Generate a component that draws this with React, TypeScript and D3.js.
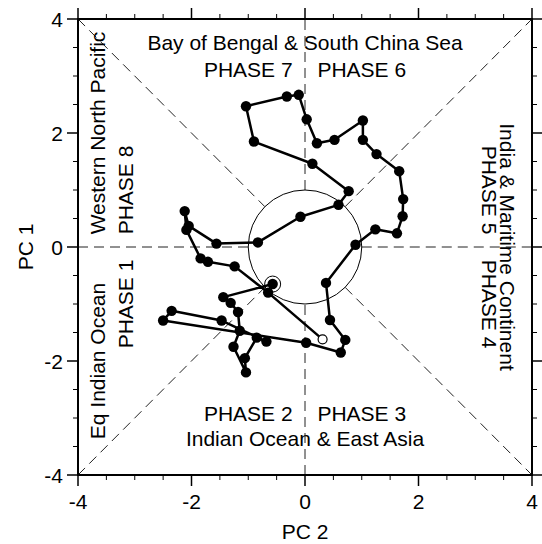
import React from "react";
import * as d3 from "d3";

// Trajectory (PC2 on x, PC1 on y), in time order
const PC2 = [
  -0.57, -1.44, -1.31, -1.18, -1.15, -1.26, -1.04, -1.06, -0.85, -0.68,
  -1.47, -2.35, -2.5, 0.02, 0.63, 0.71, 0.44, 0.37, 0.89, 1.24,
  1.62, 1.72, 1.73, 1.66, 1.26, 1.02, 1.02, 0.52, 0.21, 0.03,
  -0.11, -0.32, -1.04, -0.9, 0.13, 0.77, 0.59, -0.08, -0.83, -1.56,
  -2.05, -2.12, -2.09, -1.84, -1.71, -1.24, -0.65, 0.31,
];
const PC1 = [
  -0.65, -0.88, -0.98, -1.14, -1.47, -1.75, -2.2, -1.95, -1.59, -1.66,
  -1.29, -1.12, -1.29, -1.68, -1.85, -1.63, -1.28, -0.63, 0.04, 0.31,
  0.24, 0.54, 0.84, 1.33, 1.63, 1.88, 2.22, 1.88, 1.82, 2.24,
  2.67, 2.64, 2.47, 1.85, 1.46, 0.98, 0.74, 0.53, 0.08, 0.06,
  0.37, 0.63, 0.3, -0.2, -0.26, -0.34, -0.8, -1.62,
];
const majorTicks = [-4, -2, 0, 2, 4];
const minorTicks = [-3.5, -3, -2.5, -1.5, -1, -0.5, 0.5, 1, 1.5, 2.5, 3, 3.5];

const W = 542;
const H = 544;
const FONT = "'Liberation Sans', Arial, Helvetica, sans-serif";

export default function App() {
  const x = d3.scaleLinear().domain([-4, 4]).range([78, 532]);
  const y = d3.scaleLinear().domain([-4, 4]).range([475, 19]);
  const pts = PC2.map((v, i) => [v, PC1[i]] as [number, number]);
  const line = d3
    .line<[number, number]>()
    .x((d) => x(d[0]))
    .y((d) => y(d[1]));

  const r45 = Math.SQRT1_2;
  const dashSegs: [number, number, number, number][] = [
    [-4, 0, -1, 0],
    [1, 0, 4, 0],
    [0, -4, 0, -1],
    [0, 1, 0, 4],
    [-4, -4, -r45, -r45],
    [r45, r45, 4, 4],
    [-4, 4, -r45, r45],
    [r45, -r45, 4, -4],
  ];

  const fs = 21;
  const last = pts.length - 1;

  return (
    <svg
      width={W}
      height={H}
      style={{ position: "absolute", left: 0, top: 0, background: "#fff" }}
      fontFamily={FONT}
    >
      <rect x={0} y={0} width={W} height={H} fill="#fff" />
      {/* dashed guide lines */}
      {dashSegs.map((s, i) => (
        <line
          key={"d" + i}
          x1={x(s[0])}
          y1={y(s[1])}
          x2={x(s[2])}
          y2={y(s[3])}
          stroke="#222"
          strokeWidth={1}
          strokeDasharray="10,6"
        />
      ))}
      <ellipse
        cx={x(0)}
        cy={y(0)}
        rx={x(1) - x(0)}
        ry={y(0) - y(1)}
        fill="none"
        stroke="#000"
        strokeWidth={1}
      />
      {/* region labels */}
      <g fontSize={fs} fill="#000">
        <text x={x(0)} y={50} textAnchor="middle">Bay of Bengal &amp; South China Sea</text>
        <text x={x(-1)} y={77} textAnchor="middle">PHASE 7</text>
        <text x={x(1)} y={77} textAnchor="middle">PHASE 6</text>
        <text x={x(-1)} y={421} textAnchor="middle">PHASE 2</text>
        <text x={x(1)} y={421} textAnchor="middle">PHASE 3</text>
        <text x={x(0)} y={446} textAnchor="middle">Indian Ocean &amp; East Asia</text>
        <text transform={`translate(105,${y(2)}) rotate(-90)`} textAnchor="middle">Western North Pacific</text>
        <text transform={`translate(133,${y(1)}) rotate(-90)`} textAnchor="middle">PHASE 8</text>
        <text transform={`translate(133,${y(-1)}) rotate(-90)`} textAnchor="middle">PHASE 1</text>
        <text transform={`translate(105,${y(-2)}) rotate(-90)`} textAnchor="middle">Eq Indian Ocean</text>
        <text transform={`translate(482,${y(1)}) rotate(90)`} textAnchor="middle">PHASE 5</text>
        <text transform={`translate(482,${y(-1)}) rotate(90)`} textAnchor="middle">PHASE 4</text>
        <text transform={`translate(500,${y(0)}) rotate(90)`} textAnchor="middle">India &amp; Maritime Continent</text>
      </g>
      {/* trajectory */}
      <path d={line(pts) || ""} fill="none" stroke="#000" strokeWidth={2.5} strokeLinejoin="round" />
      {pts.slice(0, last).map((p, i) => (
        <circle key={"p" + i} cx={x(p[0])} cy={y(p[1])} r={5.2} fill="#000" />
      ))}
      {/* start marker ring */}
      <circle cx={x(pts[0][0])} cy={y(pts[0][1])} r={8} fill="none" stroke="#000" strokeWidth={1} />
      {/* end marker */}
      <circle cx={x(pts[last][0])} cy={y(pts[last][1])} r={4.5} fill="#fff" stroke="#000" strokeWidth={1.2} />
      {/* frame */}
      <rect x={78} y={19} width={454} height={456} fill="none" stroke="#000" strokeWidth={2} />
      {/* ticks */}
      <g stroke="#000" strokeWidth={1.5}>
        {majorTicks.map((t) => (
          <g key={"M" + t}>
            <line x1={x(t)} x2={x(t)} y1={475} y2={486} />
            <line x1={x(t)} x2={x(t)} y1={19} y2={8} />
            <line y1={y(t)} y2={y(t)} x1={78} x2={67} />
            <line y1={y(t)} y2={y(t)} x1={532} x2={543} />
          </g>
        ))}
        {minorTicks.map((t) => (
          <g key={"m" + t} strokeWidth={1}>
            <line x1={x(t)} x2={x(t)} y1={475} y2={480} />
            <line x1={x(t)} x2={x(t)} y1={19} y2={14} />
            <line y1={y(t)} y2={y(t)} x1={78} x2={73} />
            <line y1={y(t)} y2={y(t)} x1={532} x2={537} />
          </g>
        ))}
      </g>
      <g fontSize={fs} fill="#000">
        {majorTicks.map((t) => (
          <text key={"xl" + t} x={x(t)} y={509} textAnchor="middle">{String(t)}</text>
        ))}
        {majorTicks.map((t) => (
          <text key={"yl" + t} x={63} y={y(t) + 7.5} textAnchor="end">{String(t)}</text>
        ))}
        <text x={x(0)} y={539} textAnchor="middle">PC 2</text>
        <text transform={`translate(33,${y(0)}) rotate(-90)`} textAnchor="middle">PC 1</text>
      </g>
    </svg>
  );
}
